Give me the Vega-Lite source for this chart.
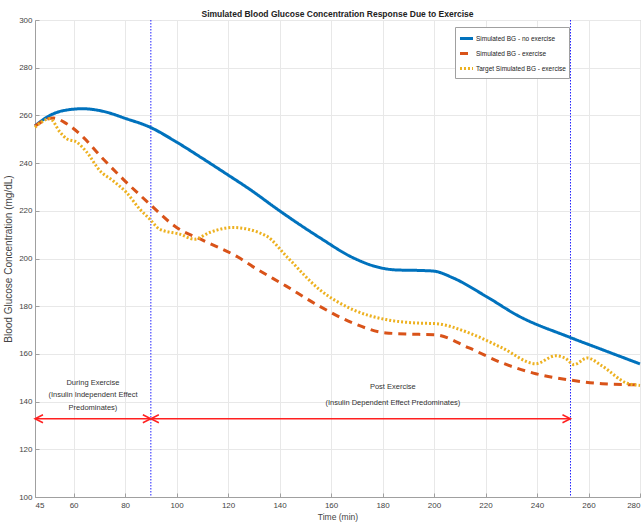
{
  "$schema": "https://vega.github.io/schema/vega-lite/v6.json",
  "width": 605,
  "height": 477,
  "autosize": {"type": "none"},
  "padding": {"left": 35, "top": 20, "right": 1, "bottom": 34},
  "background": "white",
  "title": {
    "text": "Simulated Blood Glucose Concentration Response Due to Exercise",
    "fontSize": 8.5,
    "fontWeight": "bold",
    "font": "Liberation Sans",
    "color": "#222222",
    "offset": -2,
    "anchor": "middle"
  },
  "config": {
    "view": {"stroke": "#b0b0b0", "strokeWidth": 1},
    "axis": {
      "labelFont": "Liberation Sans",
      "titleFont": "Liberation Sans",
      "labelFontSize": 8,
      "labelColor": "#444444",
      "titleColor": "#444444",
      "titleFontWeight": "normal",
      "domainColor": "#a0a0a0",
      "tickColor": "#a0a0a0",
      "gridColor": "#e8e8e8",
      "gridWidth": 1,
      "tickSize": -4
    }
  },
  "datasets": {
    "bg": [
      {"series": "Simulated BG - no exercise", "t": 45, "v": 255.6},
      {"series": "Simulated BG - no exercise", "t": 50.8, "v": 260.0},
      {"series": "Simulated BG - no exercise", "t": 56, "v": 262.0},
      {"series": "Simulated BG - no exercise", "t": 63.7, "v": 262.8},
      {"series": "Simulated BG - no exercise", "t": 71.5, "v": 261.7},
      {"series": "Simulated BG - no exercise", "t": 80.5, "v": 258.6},
      {"series": "Simulated BG - no exercise", "t": 89.6, "v": 255.1},
      {"series": "Simulated BG - no exercise", "t": 100, "v": 248.8},
      {"series": "Simulated BG - no exercise", "t": 110.3, "v": 241.8},
      {"series": "Simulated BG - no exercise", "t": 120, "v": 235.0},
      {"series": "Simulated BG - no exercise", "t": 128.3, "v": 229.1},
      {"series": "Simulated BG - no exercise", "t": 140, "v": 220.0},
      {"series": "Simulated BG - no exercise", "t": 155.5, "v": 208.8},
      {"series": "Simulated BG - no exercise", "t": 168.4, "v": 200.4},
      {"series": "Simulated BG - no exercise", "t": 177.4, "v": 196.6},
      {"series": "Simulated BG - no exercise", "t": 185.2, "v": 195.2},
      {"series": "Simulated BG - no exercise", "t": 194, "v": 195.0},
      {"series": "Simulated BG - no exercise", "t": 200, "v": 194.7},
      {"series": "Simulated BG - no exercise", "t": 207.1, "v": 192.0},
      {"series": "Simulated BG - no exercise", "t": 220.1, "v": 184.2},
      {"series": "Simulated BG - no exercise", "t": 233, "v": 175.8},
      {"series": "Simulated BG - no exercise", "t": 252.4, "v": 167.1},
      {"series": "Simulated BG - no exercise", "t": 265.3, "v": 161.8},
      {"series": "Simulated BG - no exercise", "t": 280, "v": 155.8},

      {"series": "Simulated BG - exercise", "t": 45, "v": 255.6},
      {"series": "Simulated BG - exercise", "t": 52.1, "v": 258.9},
      {"series": "Simulated BG - exercise", "t": 57.3, "v": 256.5},
      {"series": "Simulated BG - exercise", "t": 63.7, "v": 250.9},
      {"series": "Simulated BG - exercise", "t": 70.8, "v": 242.5},
      {"series": "Simulated BG - exercise", "t": 79.2, "v": 233.3},
      {"series": "Simulated BG - exercise", "t": 89.6, "v": 222.8},
      {"series": "Simulated BG - exercise", "t": 100, "v": 213.0},
      {"series": "Simulated BG - exercise", "t": 110.3, "v": 207.6},
      {"series": "Simulated BG - exercise", "t": 123.8, "v": 200.6},
      {"series": "Simulated BG - exercise", "t": 129.6, "v": 196.6},
      {"series": "Simulated BG - exercise", "t": 142.6, "v": 188.4},
      {"series": "Simulated BG - exercise", "t": 155.5, "v": 180.0},
      {"series": "Simulated BG - exercise", "t": 168.4, "v": 173.0},
      {"series": "Simulated BG - exercise", "t": 181.3, "v": 168.8},
      {"series": "Simulated BG - exercise", "t": 194.2, "v": 168.2},
      {"series": "Simulated BG - exercise", "t": 200.6, "v": 168.0},
      {"series": "Simulated BG - exercise", "t": 213.6, "v": 162.5},
      {"series": "Simulated BG - exercise", "t": 226.5, "v": 156.2},
      {"series": "Simulated BG - exercise", "t": 239.5, "v": 151.7},
      {"series": "Simulated BG - exercise", "t": 252.4, "v": 149.1},
      {"series": "Simulated BG - exercise", "t": 265.3, "v": 147.5},
      {"series": "Simulated BG - exercise", "t": 280, "v": 147.0},

      {"series": "Target Simulated BG - exercise", "t": 45, "v": 255.0},
      {"series": "Target Simulated BG - exercise", "t": 50.8, "v": 258.6},
      {"series": "Target Simulated BG - exercise", "t": 54.7, "v": 253.0},
      {"series": "Target Simulated BG - exercise", "t": 57.3, "v": 250.2},
      {"series": "Target Simulated BG - exercise", "t": 61.2, "v": 248.8},
      {"series": "Target Simulated BG - exercise", "t": 65.1, "v": 244.6},
      {"series": "Target Simulated BG - exercise", "t": 70.2, "v": 236.8},
      {"series": "Target Simulated BG - exercise", "t": 75.3, "v": 232.6},
      {"series": "Target Simulated BG - exercise", "t": 80.5, "v": 227.7},
      {"series": "Target Simulated BG - exercise", "t": 85.7, "v": 220.7},
      {"series": "Target Simulated BG - exercise", "t": 89.6, "v": 216.5},
      {"series": "Target Simulated BG - exercise", "t": 93.4, "v": 212.3},
      {"series": "Target Simulated BG - exercise", "t": 101.2, "v": 210.2},
      {"series": "Target Simulated BG - exercise", "t": 107, "v": 208.1},
      {"series": "Target Simulated BG - exercise", "t": 112.8, "v": 210.9},
      {"series": "Target Simulated BG - exercise", "t": 121.9, "v": 213.0},
      {"series": "Target Simulated BG - exercise", "t": 134.8, "v": 209.5},
      {"series": "Target Simulated BG - exercise", "t": 142.6, "v": 201.0},
      {"series": "Target Simulated BG - exercise", "t": 155.5, "v": 187.0},
      {"series": "Target Simulated BG - exercise", "t": 168.4, "v": 178.6},
      {"series": "Target Simulated BG - exercise", "t": 181.3, "v": 174.4},
      {"series": "Target Simulated BG - exercise", "t": 194.2, "v": 172.9},
      {"series": "Target Simulated BG - exercise", "t": 200.6, "v": 172.7},
      {"series": "Target Simulated BG - exercise", "t": 213.6, "v": 168.8},
      {"series": "Target Simulated BG - exercise", "t": 226.5, "v": 162.5},
      {"series": "Target Simulated BG - exercise", "t": 239.5, "v": 155.9},
      {"series": "Target Simulated BG - exercise", "t": 247.2, "v": 159.2},
      {"series": "Target Simulated BG - exercise", "t": 251, "v": 158.2},
      {"series": "Target Simulated BG - exercise", "t": 254.3, "v": 155.5},
      {"series": "Target Simulated BG - exercise", "t": 259.5, "v": 158.3},
      {"series": "Target Simulated BG - exercise", "t": 265.3, "v": 154.9},
      {"series": "Target Simulated BG - exercise", "t": 275, "v": 147.7},
      {"series": "Target Simulated BG - exercise", "t": 280, "v": 146.8}
    ],
    "vlines": [{"t": 90}, {"t": 253}],
    "spans": [{"a": 45, "b": 90, "y": 132.8}, {"a": 90, "b": 253, "y": 132.8}],
    "heads": [
      {"t": 45, "y": 132.8, "dir": "L"},
      {"t": 90, "y": 132.8, "dir": "R"},
      {"t": 90, "y": 132.8, "dir": "L"},
      {"t": 253, "y": 132.8, "dir": "R"}
    ],
    "notes": [
      {"t": 67.5, "y": 148.0, "label": "During Exercise"},
      {"t": 67.5, "y": 142.8, "label": "(Insulin Independent Effect"},
      {"t": 67.5, "y": 137.4, "label": "Predominates)"},
      {"t": 184, "y": 146.1, "label": "Post Exercise"},
      {"t": 184, "y": 139.4, "label": "(Insulin Dependent Effect Predominates)"}
    ]
  },
  "layer": [
    {
      "data": {"name": "vlines"},
      "mark": {"type": "rule", "color": "#2020ff", "strokeWidth": 1, "strokeDash": [1.5, 1.5]},
      "encoding": {
        "x": {"field": "t", "type": "quantitative", "scale": {"domain": [45, 280], "nice": false, "zero": false}}
      }
    },
    {
      "data": {"name": "bg"},
      "mark": {"type": "line", "strokeWidth": 3, "strokeCap": "butt", "interpolate": "monotone"},
      "encoding": {
        "x": {
          "field": "t", "type": "quantitative",
          "scale": {"domain": [45, 280], "nice": false, "zero": false},
          "axis": {"title": "Time (min)", "titleFontSize": 8.5, "titlePadding": 3, "values": [45, 60, 80, 100, 120, 140, 160, 180, 200, 220, 240, 260, 280], "labelPadding": 8}
        },
        "y": {
          "field": "v", "type": "quantitative",
          "scale": {"domain": [100, 300], "nice": false, "zero": false},
          "axis": {"title": "Blood Glucose Concentration (mg/dL)", "titleFontSize": 10, "titlePadding": 5, "values": [100, 120, 140, 160, 180, 200, 220, 240, 260, 280, 300], "labelPadding": 7}
        },
        "color": {
          "field": "series", "type": "nominal",
          "scale": {
            "domain": ["Simulated BG - no exercise", "Simulated BG - exercise", "Target Simulated BG - exercise"],
            "range": ["#0072BD", "#D95319", "#EDB120"]
          },
          "legend": {
            "title": null,
            "orient": "none",
            "legendX": 420,
            "legendY": 7,
            "symbolType": "stroke",
            "symbolSize": 170,
            "symbolStrokeWidth": 3,
            "labelFontSize": 6.5,
            "labelFont": "Liberation Sans",
            "labelColor": "#222222",
            "rowPadding": 0,
            "labelOffset": 1,
            "padding": 3,
            "fillColor": "white",
            "strokeColor": "#a0a0a0"
          }
        },
        "strokeDash": {
          "field": "series", "type": "nominal",
          "scale": {
            "domain": ["Simulated BG - no exercise", "Simulated BG - exercise", "Target Simulated BG - exercise"],
            "range": [[1, 0], [8, 6], [2, 2]]
          },
          "legend": null
        }
      }
    },
    {
      "data": {"name": "spans"},
      "mark": {"type": "rule", "color": "#ff2020", "strokeWidth": 1.5},
      "encoding": {
        "x": {"field": "a", "type": "quantitative"},
        "x2": {"field": "b"},
        "y": {"field": "y", "type": "quantitative"}
      }
    },
    {
      "data": {"name": "heads"},
      "mark": {"type": "point", "filled": false, "color": "#ff2020", "strokeWidth": 1.5, "size": 100, "opacity": 1},
      "encoding": {
        "x": {"field": "t", "type": "quantitative"},
        "y": {"field": "y", "type": "quantitative"},
        "shape": {
          "field": "dir", "type": "nominal",
          "scale": {"domain": ["L", "R"], "range": ["M1.6,-0.8L0,0L1.6,0.8", "M-1.6,-0.8L0,0L-1.6,0.8"]},
          "legend": null
        }
      }
    },
    {
      "data": {"name": "notes"},
      "mark": {"type": "text", "fontSize": 7.5, "font": "Liberation Sans", "color": "#333333", "align": "center", "baseline": "middle"},
      "encoding": {
        "x": {"field": "t", "type": "quantitative"},
        "y": {"field": "y", "type": "quantitative"},
        "text": {"field": "label"}
      }
    }
  ]
}
